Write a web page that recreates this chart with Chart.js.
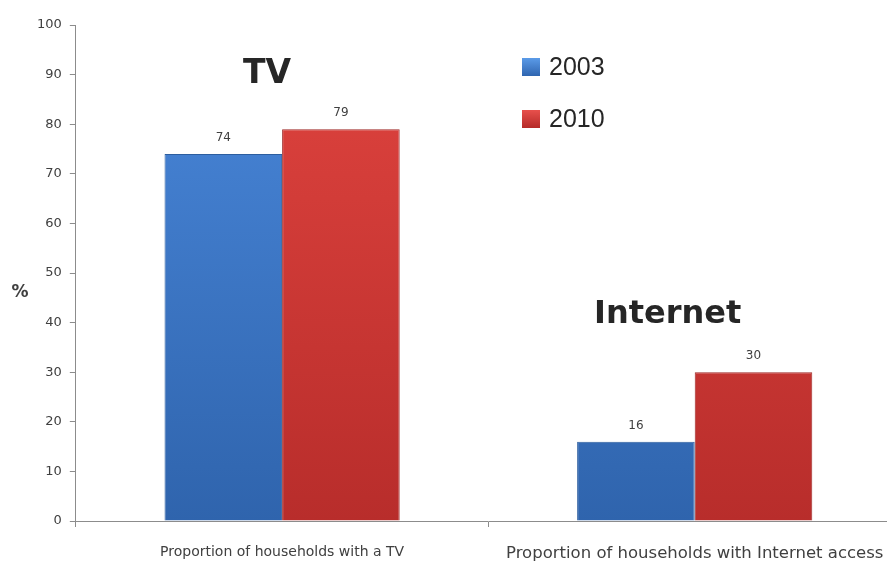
<!DOCTYPE html>
<html>
<head>
<meta charset="utf-8">
<script src="https://cdn.jsdelivr.net/npm/chart.js@4"></script>
<style>
html,body{margin:0;padding:0;background:#fff;overflow:hidden;}
#wrap{width:887px;height:563px;position:relative;overflow:hidden;}
</style>
</head>
<body>
<div id="wrap"><canvas id="c" width="901" height="563"></canvas></div>
<script>
const categories = ["Proportion of households with a TV", "Proportion of households with Internet access"];
const seriesNames = ["2003", "2010"];
const values2003 = [74, 16];
const values2010 = [79, 30];
const yTicks = [0, 10, 20, 30, 40, 50, 60, 70, 80, 90, 100];
const groupTitles = ["TV", "Internet"];

function grad(ctx, top, bottom) {
  const chart = ctx.chart;
  const ca = chart.chartArea;
  if (!ca) return top;
  const g = chart.ctx.createLinearGradient(0, ca.top, 0, ca.bottom);
  g.addColorStop(0, top);
  g.addColorStop(1, bottom);
  return g;
}

const overlay = {
  id: 'overlay',
  afterDatasetsDraw(chart) {
    const ctx = chart.ctx;
    const x = chart.scales.x, y = chart.scales.y;
    ctx.save();
    // value labels
    ctx.font = '12px "DejaVu Sans", sans-serif';
    ctx.fillStyle = '#404040';
    ctx.textAlign = 'center';
    ctx.textBaseline = 'bottom';
    chart.data.datasets.forEach((ds, di) => {
      chart.getDatasetMeta(di).data.forEach((bar, i) => {
        ctx.fillText(String(ds.data[i]), bar.x, bar.y - 10);
      });
    });
    // group titles
    ctx.fillStyle = '#262626';
    ctx.font = 'bold 33px "DejaVu Sans", sans-serif';
    ctx.textBaseline = 'middle';
    ctx.fillText(groupTitles[0], x.getPixelForValue(0) - 15, y.getPixelForValue(90));
    ctx.font = 'bold 32px "DejaVu Sans", sans-serif';
    ctx.fillText(groupTitles[1], x.getPixelForValue(1) - 27, y.getPixelForValue(41.5));
    // y title
    ctx.font = 'bold 17px "DejaVu Sans", sans-serif';
    ctx.fillStyle = '#404040';
    ctx.fillText('%', 20, y.getPixelForValue(46));
    // legend
    const lx = 522, ly = [67, 119];
    const cols = [['#5b9be8', '#2f65b0'], ['#e8504c', '#b52a28']];
    ctx.textAlign = 'left';
    ctx.font = '25px "Liberation Sans", "DejaVu Sans", sans-serif';
    seriesNames.forEach((n, i) => {
      const g = ctx.createLinearGradient(0, ly[i] - 9, 0, ly[i] + 9);
      g.addColorStop(0, cols[i][0]);
      g.addColorStop(1, cols[i][1]);
      ctx.fillStyle = g;
      ctx.fillRect(lx, ly[i] - 9, 18, 18);
      ctx.fillStyle = '#262626';
      ctx.fillText(n, lx + 27, ly[i] + 1);
    });
    ctx.restore();
  }
};

new Chart(document.getElementById('c'), {
  type: 'bar',
  data: {
    labels: categories,
    datasets: [
      {
        label: seriesNames[0],
        data: values2003,
        backgroundColor: (ctx) => grad(ctx, '#4a88db', '#2f64ad'),
        borderColor: '#2d5e9f',
        borderWidth: 1
      },
      {
        label: seriesNames[1],
        data: values2010,
        backgroundColor: (ctx) => grad(ctx, '#e0443f', '#b82d2b'),
        borderColor: '#9e2826',
        borderWidth: 1
      }
    ]
  },
  options: {
    responsive: false,
    animation: false,
    layout: { padding: { top: 25, right: 0, left: 29, bottom: 0 } },
    plugins: { legend: { display: false }, tooltip: { enabled: false } },
    datasets: { bar: { categoryPercentage: 0.57, barPercentage: 1 } },
    scales: {
      x: {
        afterFit(scale) { scale.height = 42; },
        grid: { display: true, drawOnChartArea: false, offset: true, color: '#8c8c8c', tickLength: 6 },
        border: { color: '#8c8c8c', width: 1 },
        ticks: {
          color: '#404040',
          font: (c) => ({ size: c.index === 1 ? 16.5 : 14, family: '"DejaVu Sans", sans-serif' }),
          padding: 17, maxRotation: 0
        }
      },
      y: {
        min: 0, max: 100,
        afterBuildTicks(axis) { axis.ticks = yTicks.map(v => ({ value: v })); },
        grid: { display: true, drawOnChartArea: false, color: '#8c8c8c', tickLength: 6 },
        border: { color: '#8c8c8c', width: 1 },
        ticks: { color: '#404040', font: { size: 13, family: '"DejaVu Sans", sans-serif' }, padding: 8 }
      }
    }
  },
  plugins: [overlay]
});
</script>
</body>
</html>
